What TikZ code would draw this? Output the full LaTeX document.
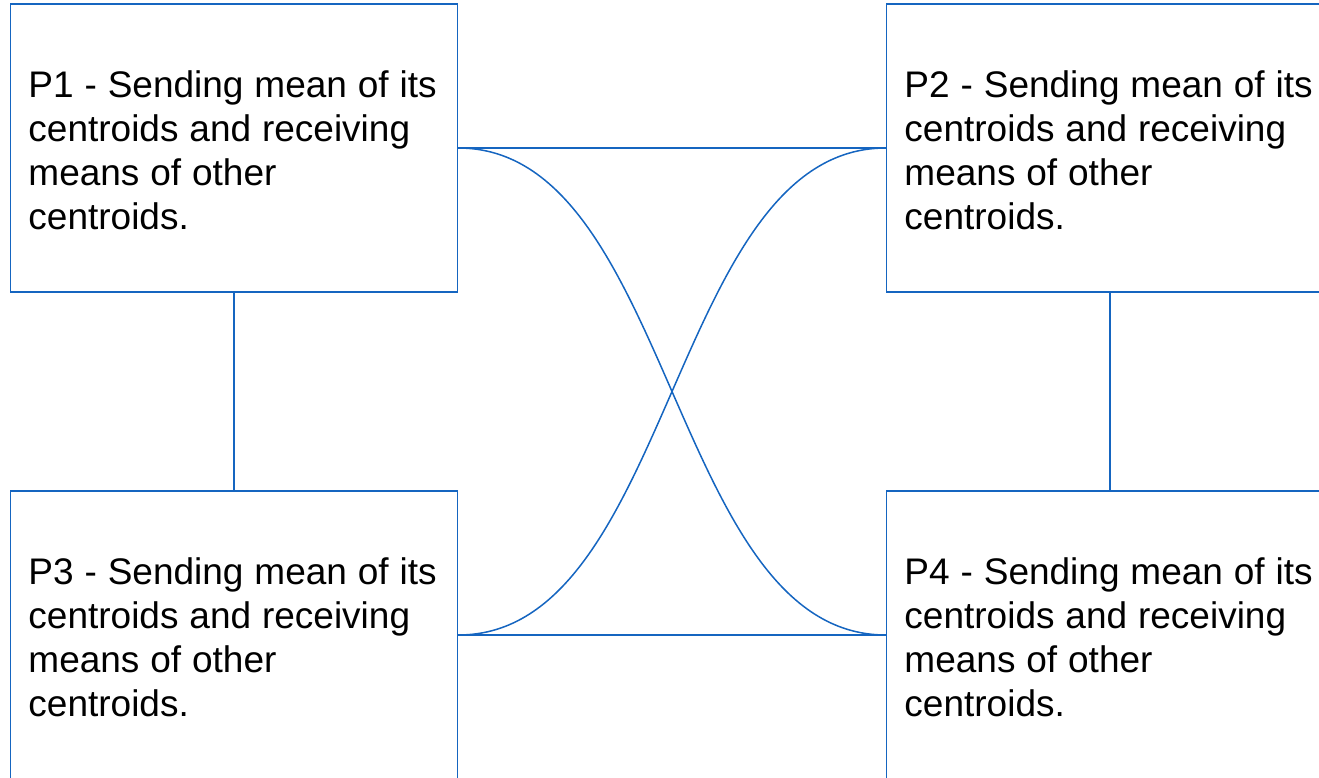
\documentclass[tikz,border=0pt]{standalone}
\usepackage{fontspec}
\setmainfont{Liberation Sans}
\definecolor{lineblue}{RGB}{21,101,192}
\begin{document}
\begin{tikzpicture}[x=1pt,y=-1pt,
  pbox/.style={draw=lineblue, line width=1.5pt, rectangle, minimum width=447pt, minimum height=288pt, inner sep=0pt},
  ptext/.style={anchor=west, text width=440pt, align=left, inner sep=0pt,
    font=\fontsize{37}{44}\selectfont,
    execute at begin node={\spaceskip=10.9pt\relax}},
  conn/.style={draw=lineblue, line width=1.5pt}]
\useasboundingbox (0,0) rectangle (1319,777);
\node[pbox] (p1) at (234,148) {};
\node[pbox] (p2) at (1110,148) {};
\node[pbox] (p3) at (234,635) {};
\node[pbox] (p4) at (1110,635) {};
\node[ptext] (t1) at ([xshift=18.5pt,yshift=-2pt]p1.west) {P1 - Sending mean of its\\centroids and receiving\\means of other\\centroids.};
\node[ptext] (t2) at ([xshift=18.5pt,yshift=-2pt]p2.west) {P2 - Sending mean of its\\centroids and receiving\\means of other\\centroids.};
\node[ptext] (t3) at ([xshift=18.5pt,yshift=-2pt]p3.west) {P3 - Sending mean of its\\centroids and receiving\\means of other\\centroids.};
\node[ptext] (t4) at ([xshift=18.5pt,yshift=-2pt]p4.west) {P4 - Sending mean of its\\centroids and receiving\\means of other\\centroids.};
\draw[conn] (p1.east) -- (p2.west);
\draw[conn] (p3.east) -- (p4.west);
\draw[conn] (p1.south) -- (p3.north);
\draw[conn] (p2.south) -- (p4.north);
\draw[conn] (p1.east) .. controls +(214.5,0) and +(-214.5,0) .. (p4.west);
\draw[conn] (p3.east) .. controls +(214.5,0) and +(-214.5,0) .. (p2.west);
\end{tikzpicture}
\end{document}
